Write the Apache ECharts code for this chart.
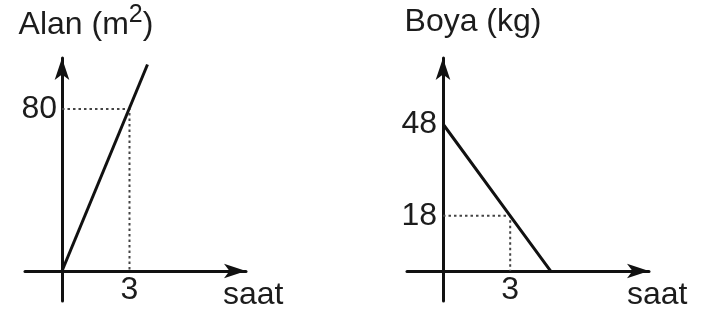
<!DOCTYPE html>
<html>
<head>
<meta charset="utf-8">
<script src="https://cdn.jsdelivr.net/npm/echarts@6/dist/echarts.min.js"></script>
<style>
  html, body { margin: 0; padding: 0; background: #fff; }
  #chart { width: 704px; height: 322px; }
</style>
</head>
<body>
<div id="chart"></div>
<script>
// ---- data ----
const alanLine = [[0, 0], [3.8, 102]];          // Alan (m²) vs saat
const alanGuide = [[0, 80], [3, 80], [3, 0]];   // dotted guide to (3, 80)
const alanTicksX = [3];
const alanTicksY = [80];

const boyaLine = [[0, 48], [3, 18], [4.8, 0]];  // Boya (kg) vs saat
const boyaGuide = [[0, 18], [3, 18], [3, 0]];   // dotted guide to (3, 18)
const boyaTicksX = [3];
const boyaTicksY = [18, 48];

const xName = 'saat';
const alanName = '{a|Alan (m}{sup|2}{a|)}';
const boyaName = 'Boya (kg)';

// ---- styling ----
const FONT = "'Liberation Sans', Arial, sans-serif";
const FS = 32;
const INK = '#111';
const TXT = '#1c1c1c';

function axisLine() {
  return {
    show: true, onZero: false,
    symbol: ['none', 'arrow'], symbolSize: [11, 22],
    lineStyle: { color: INK, width: 3 }
  };
}
function xAxis(gridIndex, min, max, ticks, gap, offset) {
  return {
    type: 'value', gridIndex, min, max, position: 'bottom', offset,
    name: xName, nameLocation: 'end', nameGap: gap, nameMoveOverlap: false,
    nameTextStyle: { fontFamily: FONT, fontSize: FS, color: TXT, align: 'left', verticalAlign: 'top', padding: [8, 0, 0, 0] },
    axisLine: axisLine(),
    axisTick: { show: false },
    splitLine: { show: false },
    axisLabel: { customValues: ticks, margin: 3, fontFamily: FONT, fontSize: FS, color: TXT }
  };
}
function yAxis(gridIndex, min, max, ticks, name, padLeft, margin, offset, gap, rich) {
  return {
    type: 'value', gridIndex, min, max, position: 'left', offset,
    name, nameLocation: 'end', nameGap: gap, nameMoveOverlap: false,
    nameTextStyle: Object.assign({ fontFamily: FONT, fontSize: FS, color: TXT, lineHeight: 32, padding: [0, 0, 0, padLeft] }, rich ? { rich } : {}),
    axisLine: axisLine(),
    axisTick: { show: false },
    splitLine: { show: false },
    axisLabel: { customValues: ticks, margin, fontFamily: FONT, fontSize: FS, color: TXT }
  };
}

const chart = echarts.init(document.getElementById('chart'), null, { renderer: 'canvas' });
chart.setOption({
  animation: false,
  backgroundColor: '#fff',
  grid: [
    { left: 25, width: 221, top: 58, bottom: 21, outerBoundsMode: 'none', containLabel: false },
    { left: 407, width: 242, top: 58, bottom: 21, outerBoundsMode: 'none', containLabel: false }
  ],
  xAxis: [
    xAxis(0, -1.644, 8.178, alanTicksX, -23, -30),
    xAxis(1, -1.607, 9.196, boyaTicksX, -22, -30)
  ],
  yAxis: [
    yAxis(0, -14.81, 105.19, alanTicksY, alanName, 48, 5, -37, 16.5, {
      a: { fontFamily: FONT, fontSize: FS, color: TXT, lineHeight: 32 },
      sup: { fontFamily: FONT, fontSize: 25, color: TXT, lineHeight: 25, verticalAlign: 'bottom', padding: [0, 0, 14, 0] }
    }),
    yAxis(1, -9.80, 69.55, boyaTicksY, boyaName, 60, 6, -36, 20, null)
  ],
  series: [
    { type: 'line', xAxisIndex: 0, yAxisIndex: 0, data: alanGuide, showSymbol: false, z: 1,
      lineStyle: { color: '#444', width: 2, type: [2.5, 3] } },
    { type: 'line', xAxisIndex: 0, yAxisIndex: 0, data: alanLine, showSymbol: false, z: 3,
      lineStyle: { color: INK, width: 3 } },
    { type: 'line', xAxisIndex: 1, yAxisIndex: 1, data: boyaGuide, showSymbol: false, z: 1,
      lineStyle: { color: '#444', width: 2, type: [2.5, 3] } },
    { type: 'line', xAxisIndex: 1, yAxisIndex: 1, data: boyaLine, showSymbol: false, z: 3,
      lineStyle: { color: INK, width: 3 } }
  ]
});
</script>
</body>
</html>
